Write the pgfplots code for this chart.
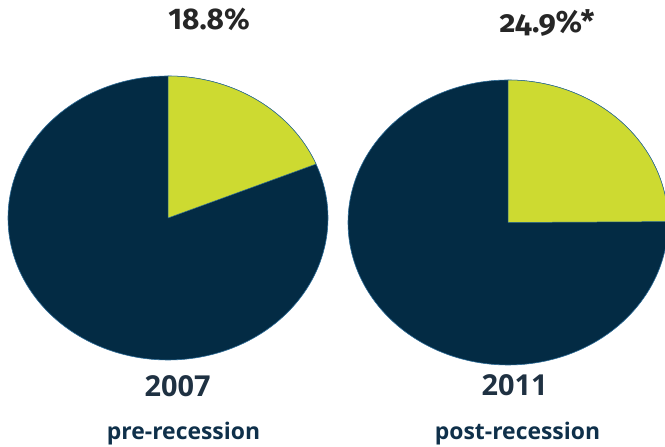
\documentclass[border=0pt]{standalone}
\usepackage{pgfplots}
\pgfplotsset{compat=1.18}
\usepackage{pgfplotstable}
\usepackage{fontspec}
\setmainfont{Open Sans}
\newfontfamily\pctfont{Fira Sans}
\newfontfamily\pctold[Numbers=OldStyle]{Fira Sans}
\definecolor{navy}{HTML}{032B44}
\definecolor{lime}{HTML}{CDDA31}
\definecolor{edge}{HTML}{2B6A96}
\definecolor{yeartxt}{HTML}{1F3142}
\definecolor{subtxt}{HTML}{0F304A}
\definecolor{pcttxt}{HTML}{262626}

\pgfplotstableread{
year share cx cy rx ry
2007 18.8 168 229 160 142
2011 24.9 508 224.5 160 142.5
}\shares

\pgfplotstablegetelem{0}{share}\of\shares \pgfmathsetmacro{\sA}{\pgfplotsretval}
\pgfplotstablegetelem{1}{share}\of\shares \pgfmathsetmacro{\sB}{\pgfplotsretval}
\pgfmathsetmacro{\aA}{90-3.6*\sA}
\pgfmathsetmacro{\aB}{90-3.6*\sB}

\begin{document}
\begin{tikzpicture}
\begin{axis}[
  name=main,
  width=665bp, height=447bp, scale only axis,
  xmin=0, xmax=665, ymin=0, ymax=447,
  hide axis, clip=true,
]
% 2007 pie
\addplot[fill=navy, draw=edge, line width=0.6pt, domain=0:360, samples=181, variable=\t]
  ({168+160*cos(t)},{229+142*sin(t)}) -- cycle;
\addplot[fill=lime, draw=edge, line width=0.5pt, domain=\aA:90, samples=60, variable=\t]
  ({168+160*cos(t)},{229+142*sin(t)}) -- (axis cs:168,229) -- cycle;
% 2011 pie
\addplot[fill=navy, draw=edge, line width=0.6pt, domain=0:360, samples=181, variable=\t]
  ({508+160*cos(t)},{224.5+142.5*sin(t)}) -- cycle;
\addplot[fill=lime, draw=edge, line width=0.5pt, domain=\aB:90, samples=60, variable=\t]
  ({508+160*cos(t)},{224.5+142.5*sin(t)}) -- (axis cs:508,224.5) -- cycle;

\node[anchor=base, inner sep=0pt, text=pcttxt, font=\pctfont\bfseries\fontsize{30}{31}\selectfont] at (axis cs:209,417) {18.8\%};
\node[anchor=base, inner sep=0pt, text=pcttxt, font=\pctold\bfseries\fontsize{31}{32}\selectfont] at (axis cs:547,414) {24.9\%*};
\node[anchor=base, inner sep=0pt, text=yeartxt, font=\bfseries\fontsize{29}{32}\selectfont] at (axis cs:177.5,50) {2007};
\node[anchor=base, inner sep=0pt, text=yeartxt, font=\bfseries\fontsize{29}{32}\selectfont] at (axis cs:514.5,51) {2011};
\node[anchor=base, inner sep=0pt, text=subtxt, font=\bfseries\fontsize{23}{25}\selectfont] at (axis cs:183.5,7) {pre-recession};
\node[anchor=base, inner sep=0pt, text=subtxt, font=\bfseries\fontsize{23}{25}\selectfont] at (axis cs:517.5,7) {post-recession};
\end{axis}
\pgfresetboundingbox
\path[use as bounding box] (main.south west) rectangle (main.north east);
\end{tikzpicture}
\end{document}
